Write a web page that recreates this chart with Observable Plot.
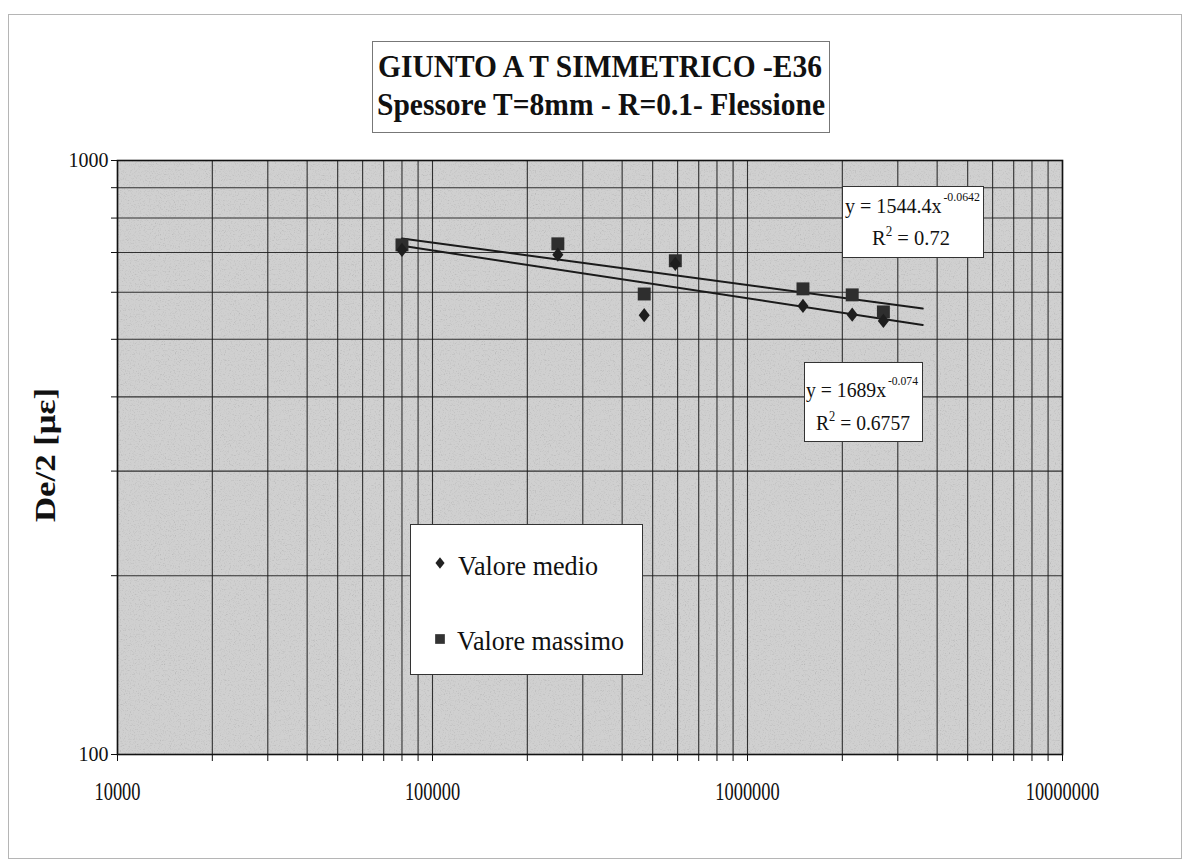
<!DOCTYPE html>
<html><head><meta charset="utf-8">
<script src="https://cdn.jsdelivr.net/npm/d3@7"></script>
<script src="https://cdn.jsdelivr.net/npm/@observablehq/plot@0.6"></script>
<style>
body{margin:0;background:#fff;}
#wrap{position:relative;width:1187px;height:865px;overflow:hidden;}
svg{display:block;}
</style></head><body><div id="wrap"></div>
<script>
// ---- data ----
const cycles        = [80000, 250000, 470000, 590000, 1500000, 2150000, 2700000];
const valoreMedio   = [707, 694, 549, 670, 569, 550, 537];
const valoreMassimo = [721, 724, 596, 678, 608, 594, 556];
const seriesNames   = ["Valore medio", "Valore massimo"];
const xTickLabels   = [10000, 100000, 1000000, 10000000];
const yTickLabels   = [100, 1000];
const trendEnd      = 3600000;
const titleLines    = ["GIUNTO A T SIMMETRICO -E36", "Spessore T=8mm - R=0.1- Flessione"];
const yAxisLabel    = "De/2 [\u03bc\u03b5]";
const eqMassimo     = {main: "y = 1544.4x", exp: "-0.0642", r2: "0.72"};
const eqMedio       = {main: "y = 1689x", exp: "-0.074", r2: "0.6757"};

// ---- layout ----
const W = 1187, H = 865;
const plotLeft = 117, plotRight = 1062, plotTop = 160, plotBottom = 754;
const FONT = "'Liberation Serif','Times New Roman',serif";

const medio = cycles.map((x, i) => ({x, y: valoreMedio[i]}));
const massimo = cycles.map((x, i) => ({x, y: valoreMassimo[i]}));

// power-law least squares (log-log), as a spreadsheet trendline does
function powerFit(data) {
  const lx = data.map(d => Math.log(d.x)), ly = data.map(d => Math.log(d.y));
  const mx = d3.mean(lx), my = d3.mean(ly);
  const b = d3.sum(lx, (v, i) => (v - mx) * (ly[i] - my)) / d3.sum(lx, v => (v - mx) ** 2);
  const a = Math.exp(my - b * mx);
  return x => a * Math.pow(x, b);
}
const trendX = [cycles[0], trendEnd];
const fMedio = powerFit(medio), fMassimo = powerFit(massimo);
const trendMedio = trendX.map(x => ({x, y: fMedio(x)}));
const trendMassimo = trendX.map(x => ({x, y: fMassimo(x)}));

const xGrid = d3.range(4, 7).flatMap(k => d3.range(1, 10).map(m => m * 10 ** k)).concat([1e7]);
const yGrid = d3.range(1, 11).map(m => m * 100);

const diamondSym = {
  draw(ctx, size) {
    const h = Math.sqrt(size) * 0.55, w = h * 0.78;
    ctx.moveTo(0, -h); ctx.lineTo(w, 0); ctx.lineTo(0, h); ctx.lineTo(-w, 0); ctx.closePath();
  }
};

const chart = Plot.plot({
  width: W, height: H,
  marginLeft: plotLeft, marginRight: W - plotRight, marginTop: plotTop, marginBottom: H - plotBottom,
  style: {fontFamily: FONT, background: "transparent", color: "#111"},
  x: {type: "log", domain: [1e4, 1e7]},
  y: {type: "log", domain: [100, 1000]},
  marks: [
    Plot.frame({fill: "#d0d0d0", stroke: null}),
    Plot.gridX(xGrid, {stroke: "#1e1e1e", strokeOpacity: 0.9, strokeWidth: 1.1}),
    Plot.gridY(yGrid, {stroke: "#1e1e1e", strokeOpacity: 0.9, strokeWidth: 1.1}),
    Plot.axisX(xGrid, {tickSize: 7, tickPadding: 21, fontSize: 25, label: null,
      tickFormat: d => xTickLabels.includes(d) ? String(d) : ""}),
    Plot.axisY(yGrid, {tickSize: 6, tickPadding: 3, fontSize: 20, label: null,
      tickFormat: d => yTickLabels.includes(d) ? String(d) : ""}),
    Plot.frame({stroke: "#111", strokeWidth: 1.6}),
    Plot.line(trendMassimo, {x: "x", y: "y", stroke: "#1a1a1a", strokeWidth: 2}),
    Plot.line(trendMedio, {x: "x", y: "y", stroke: "#1a1a1a", strokeWidth: 2}),
    Plot.dot(massimo, {x: "x", y: "y", symbol: "square", r: 7.3, fill: "#2e2e2e", stroke: "none"}),
    Plot.dot(medio, {x: "x", y: "y", symbol: diamondSym, r: 7.3, fill: "#1e1e1e", stroke: "none"})
  ]
});
document.getElementById("wrap").appendChild(chart);

const svg = d3.select(chart);

// grain texture on the plot background
const defs = svg.insert("defs", ":first-child");
const f = defs.append("filter").attr("id", "grain").attr("x", 0).attr("y", 0).attr("width", "100%").attr("height", "100%");
f.append("feTurbulence").attr("type", "fractalNoise").attr("baseFrequency", 0.8).attr("numOctaves", 2).attr("seed", 4).attr("result", "n");
f.append("feColorMatrix").attr("in", "n").attr("type", "matrix")
  .attr("values", "0.33 0.33 0.33 0 0  0.33 0.33 0.33 0 0  0.33 0.33 0.33 0 0  0 0 0 0 1").attr("result", "g");
const ct = f.append("feComponentTransfer").attr("in", "g").attr("result", "m");
["feFuncR", "feFuncG", "feFuncB"].forEach(k => ct.append(k).attr("type", "linear").attr("slope", 0.9).attr("intercept", 0.56));
f.append("feBlend").attr("in", "SourceGraphic").attr("in2", "m").attr("mode", "multiply").attr("result", "b");
f.append("feComposite").attr("in", "b").attr("in2", "SourceGraphic").attr("operator", "in");
svg.selectAll('[aria-label="frame"]').filter((d, i) => i === 0).each(function() {
  const el = this.tagName.toLowerCase() === "rect" ? this : this.querySelector("rect");
  if (el) el.setAttribute("filter", "url(#grain)");
});

// condensed tick labels on x
svg.selectAll('g[aria-label="x-axis tick label"] text').each(function() {
  const t = this.textContent;
  if (t) d3.select(this).attr("textLength", t.length * 9.2).attr("lengthAdjust", "spacingAndGlyphs");
});

const g = svg.append("g").attr("font-family", FONT).attr("fill", "#111").attr("text-anchor", "start");

function text(str, x, y, size, o = {}) {
  const t = g.append("text").attr("x", x).attr("y", y).attr("font-size", size).attr("text-anchor", "start").text(str);
  if (o.weight) t.attr("font-weight", o.weight);
  if (o.len) t.attr("textLength", o.len).attr("lengthAdjust", "spacingAndGlyphs");
  return t;
}
function box(x0, y0, x1, y1, stroke = "#333") {
  g.append("rect").attr("x", x0 + 0.5).attr("y", y0 + 0.5).attr("width", x1 - x0).attr("height", y1 - y0)
    .attr("fill", "#fff").attr("stroke", stroke).attr("stroke-width", 1);
}

// outer chart border
g.append("rect").attr("x", 8.5).attr("y", 14.5).attr("width", 1173).attr("height", 844)
  .attr("fill", "none").attr("stroke", "#b5b5b5");

// title
box(372, 41, 829, 132, "#777");
text(titleLines[0], 378, 77, 32, {weight: "bold", len: 444});
text(titleLines[1], 377, 115, 32, {weight: "bold", len: 448});

// y-axis label
g.append("text").attr("transform", "translate(55,455) rotate(-90)").attr("text-anchor", "middle")
  .attr("font-size", 29).attr("font-weight", "bold")
  .attr("textLength", 134).attr("lengthAdjust", "spacingAndGlyphs").text(yAxisLabel);

// equation boxes: line 1 is main text + separate superscript, in a horizontally condensed group
function eqBox(eq, bx, l1, l2) {
  box(bx[0], bx[1], bx[2], bx[3]);
  const grp = g.append("g");
  const m = grp.append("text").attr("x", 0).attr("y", 0).attr("font-size", 22).attr("text-anchor", "start").text(eq.main);
  const mw = m.node().getComputedTextLength();
  const e = grp.append("text").attr("x", mw + 2).attr("y", -12).attr("font-size", 13).attr("text-anchor", "start").text(eq.exp);
  const ew = e.node().getComputedTextLength();
  const sx = l1.len / (mw + 2 + ew);
  grp.attr("transform", `translate(${l1.x},${l1.y}) scale(${sx},1)`);
  const t = g.append("text").attr("x", l2.x).attr("y", l2.y).attr("font-size", 22).attr("text-anchor", "start")
    .attr("textLength", l2.len).attr("lengthAdjust", "spacingAndGlyphs");
  t.append("tspan").text("R");
  t.append("tspan").attr("dy", -9).attr("font-size", 14).text("2");
  t.append("tspan").attr("dy", 9).text(" = " + eq.r2);
}
eqBox(eqMassimo, [842, 186, 983, 257], {x: 845, y: 213, len: 135}, {x: 872, y: 245, len: 78});
eqBox(eqMedio, [804, 362, 922, 441], {x: 806, y: 397, len: 112}, {x: 816, y: 430, len: 94});

// legend
box(410, 524, 642, 674);
const symG = g.append("g").attr("fill", "#222");
symG.append("path").attr("transform", "translate(440,563)")
  .attr("d", d3.symbol(diamondSym, Math.PI * 36)());
symG.append("path").attr("transform", "translate(440,639)")
  .attr("d", d3.symbol(d3.symbolSquare, Math.PI * 30)()).attr("fill", "#333");
text(seriesNames[0], 458, 575, 28, {len: 140});
text(seriesNames[1], 457, 650, 28, {len: 167});
</script>
</body></html>
